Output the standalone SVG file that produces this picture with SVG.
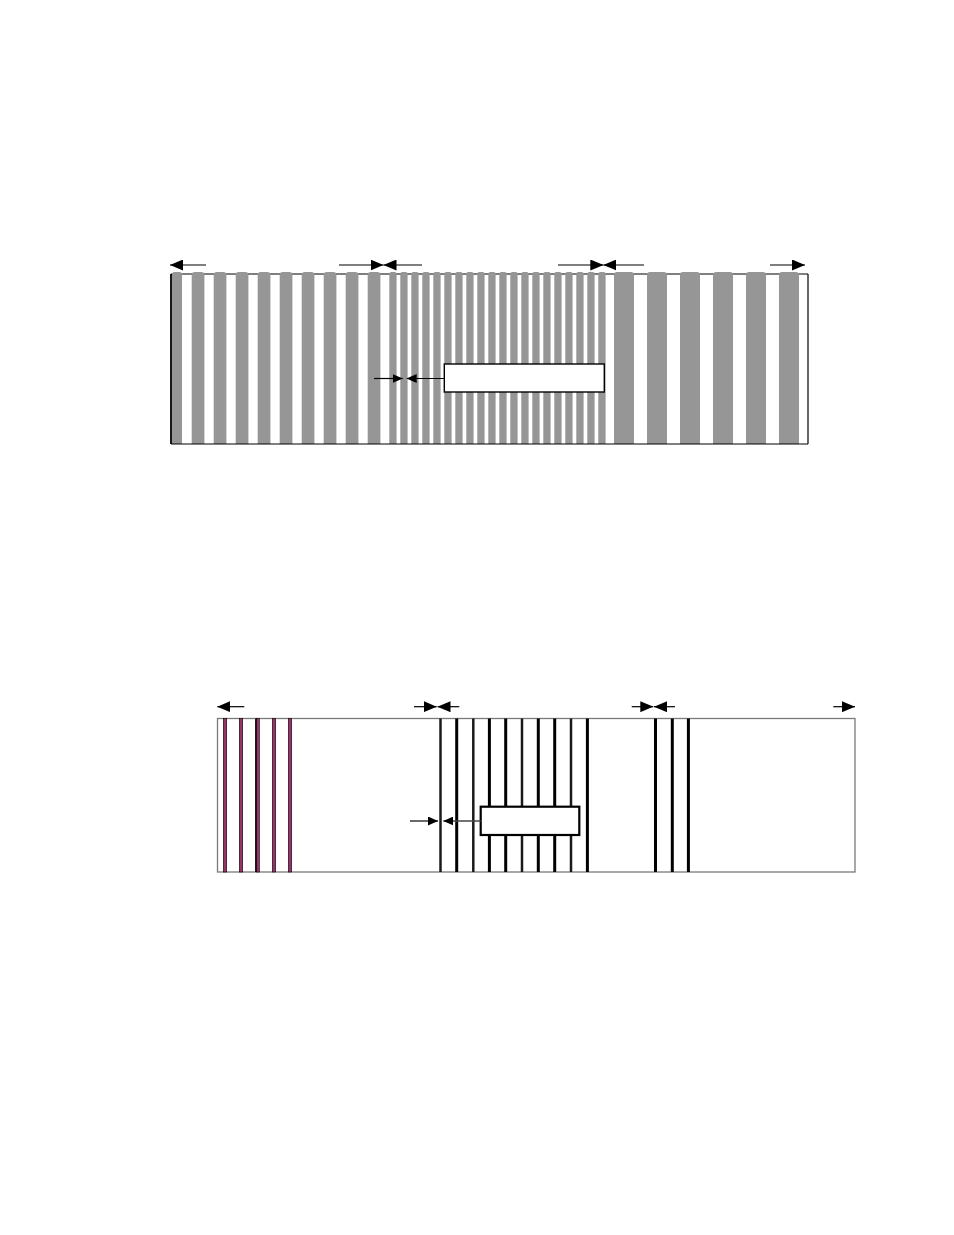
<svg xmlns="http://www.w3.org/2000/svg" width="954" height="1235" viewBox="0 0 954 1235">
<style>
.bar{fill:#969696}
.frame{fill:none;stroke:#000;stroke-width:1.2}
.frame2{fill:none;stroke:#7a7a7a;stroke-width:1.3}
.arr{stroke:#000;stroke-width:1.2;fill:none}
.arr2{stroke:#444;stroke-width:1.6;fill:none}
.lbox{fill:#fff;stroke:#000;stroke-width:1.4}
.lbox2{fill:#fff;stroke:#000;stroke-width:2.2}
.mag{fill:#993366;stroke:#000;stroke-width:0.6}
.bl{stroke:#000;stroke-width:3}
.bt{stroke:#1a1a1a;stroke-width:2.5}
</style>
<defs>
<marker id="ah" markerUnits="userSpaceOnUse" markerWidth="13" markerHeight="11" refX="13" refY="5.5" orient="auto"><path d="M0,0 L13,5.5 L0,11 z" fill="#000"/></marker>
<marker id="ahs" markerUnits="userSpaceOnUse" markerWidth="10" markerHeight="9" refX="10" refY="4.5" orient="auto"><path d="M0,0 L10,4.5 L0,9 z" fill="#000"/></marker>
<clipPath id="c1"><rect x="0" y="0" width="954" height="444"/></clipPath>
</defs>

<g id="top-diagram">
<g id="top-frame-top">
<line class="frame" x1="171" y1="274" x2="808" y2="274"/>
</g>
<g id="top-bars" clip-path="url(#c1)">
<rect class="bar" x="172" y="272" width="10" height="180" rx="2.5"/>
<rect class="bar" x="191.7" y="272" width="12.7" height="180" rx="3"/>
<rect class="bar" x="213.7" y="272" width="12.7" height="180" rx="3"/>
<rect class="bar" x="235.7" y="272" width="12.7" height="180" rx="3"/>
<rect class="bar" x="257.7" y="272" width="12.7" height="180" rx="3"/>
<rect class="bar" x="279.7" y="272" width="12.7" height="180" rx="3"/>
<rect class="bar" x="301.7" y="272" width="12.7" height="180" rx="3"/>
<rect class="bar" x="323.7" y="272" width="12.7" height="180" rx="3"/>
<rect class="bar" x="345.7" y="272" width="12.7" height="180" rx="3"/>
<rect class="bar" x="367.7" y="272" width="12.7" height="180" rx="3"/>
<rect class="bar" x="389.3" y="272" width="7.3" height="180" rx="2"/>
<rect class="bar" x="400.3" y="272" width="7.3" height="180" rx="2"/>
<rect class="bar" x="411.3" y="272" width="7.3" height="180" rx="2"/>
<rect class="bar" x="422.3" y="272" width="7.3" height="180" rx="2"/>
<rect class="bar" x="433.3" y="272" width="7.3" height="180" rx="2"/>
<rect class="bar" x="444.3" y="272" width="7.3" height="180" rx="2"/>
<rect class="bar" x="455.3" y="272" width="7.3" height="180" rx="2"/>
<rect class="bar" x="466.3" y="272" width="7.3" height="180" rx="2"/>
<rect class="bar" x="477.3" y="272" width="7.3" height="180" rx="2"/>
<rect class="bar" x="488.3" y="272" width="7.3" height="180" rx="2"/>
<rect class="bar" x="499.3" y="272" width="7.3" height="180" rx="2"/>
<rect class="bar" x="510.3" y="272" width="7.3" height="180" rx="2"/>
<rect class="bar" x="521.3" y="272" width="7.3" height="180" rx="2"/>
<rect class="bar" x="532.3" y="272" width="7.3" height="180" rx="2"/>
<rect class="bar" x="543.3" y="272" width="7.3" height="180" rx="2"/>
<rect class="bar" x="554.3" y="272" width="7.3" height="180" rx="2"/>
<rect class="bar" x="565.3" y="272" width="7.3" height="180" rx="2"/>
<rect class="bar" x="576.3" y="272" width="7.3" height="180" rx="2"/>
<rect class="bar" x="587.3" y="272" width="7.3" height="180" rx="2"/>
<rect class="bar" x="598.3" y="272" width="7.3" height="180" rx="2"/>
<rect class="bar" x="614" y="272" width="20" height="180" rx="3"/>
<rect class="bar" x="647" y="272" width="20" height="180" rx="3"/>
<rect class="bar" x="680" y="272" width="20" height="180" rx="3"/>
<rect class="bar" x="713" y="272" width="20" height="180" rx="3"/>
<rect class="bar" x="746" y="272" width="20" height="180" rx="3"/>
<rect class="bar" x="779" y="272" width="20" height="180" rx="3"/>
</g>
<g id="top-frame">
<line class="frame" x1="171" y1="444" x2="808" y2="444"/>
<line class="frame" x1="808" y1="274" x2="808" y2="444"/>
<line x1="171" y1="274" x2="171" y2="444" stroke="#000" stroke-width="1.8"/>
</g>
<g id="top-label-box">
<rect class="lbox" x="444.3" y="364" width="160" height="28"/>
</g>
</g>

<g id="bottom-diagram">
<g id="bottom-frame">
<rect class="frame2" x="217.5" y="718.5" width="637.5" height="153.5"/>
</g>
<g id="bottom-lines">
<rect class="mag" x="223.3" y="718.5" width="3.4" height="153.5"/>
<rect class="mag" x="239.3" y="718.5" width="3.4" height="153.5"/>
<line x1="256" y1="718.5" x2="256" y2="872" stroke="#000" stroke-width="1.8"/>
<rect class="mag" x="256.5" y="718.5" width="2.8" height="153.5"/>
<rect class="mag" x="272.3" y="718.5" width="3.4" height="153.5"/>
<rect class="mag" x="288.3" y="718.5" width="3.4" height="153.5"/>
<line class="bt" x1="440.5" y1="718.5" x2="440.5" y2="872"/>
<line class="bl" x1="456.7" y1="718.5" x2="456.7" y2="872"/>
<line class="bt" x1="473.3" y1="718.5" x2="473.3" y2="872"/>
<line class="bl" x1="489.4" y1="718.5" x2="489.4" y2="872"/>
<line class="bl" x1="505.7" y1="718.5" x2="505.7" y2="872"/>
<line class="bt" x1="522" y1="718.5" x2="522" y2="872"/>
<line class="bl" x1="538.3" y1="718.5" x2="538.3" y2="872"/>
<line class="bl" x1="554.7" y1="718.5" x2="554.7" y2="872"/>
<line class="bt" x1="571" y1="718.5" x2="571" y2="872"/>
<line class="bl" x1="587.4" y1="718.5" x2="587.4" y2="872"/>
<line class="bl" x1="655.5" y1="718.5" x2="655.5" y2="872"/>
<line class="bl" x1="672.3" y1="718.5" x2="672.3" y2="872"/>
<line class="bl" x1="688.4" y1="718.5" x2="688.4" y2="872"/>
</g>
<g id="bottom-label-box">
<rect class="lbox2" x="480.7" y="806.7" width="98.6" height="28.3"/>
</g>
</g>

<g id="connectors">
<line class="arr" x1="206" y1="265" x2="170" y2="265" marker-end="url(#ah)"/>
<line class="arr" x1="339" y1="265" x2="383.5" y2="265" marker-end="url(#ah)"/>
<line class="arr" x1="422" y1="265" x2="383.5" y2="265" marker-end="url(#ah)"/>
<line class="arr" x1="558" y1="265" x2="603.3" y2="265" marker-end="url(#ah)"/>
<line class="arr" x1="644" y1="265" x2="603.3" y2="265" marker-end="url(#ah)"/>
<line class="arr" x1="770" y1="265" x2="805" y2="265" marker-end="url(#ah)"/>
<line class="arr" x1="374" y1="378.5" x2="402.7" y2="378.5" marker-end="url(#ahs)"/>
<line class="arr" x1="444.3" y1="378.5" x2="406.7" y2="378.5" marker-end="url(#ahs)"/>
<line class="arr" x1="244.3" y1="706.7" x2="217.3" y2="706.7" marker-end="url(#ah)"/>
<line class="arr" x1="414" y1="706.7" x2="436.7" y2="706.7" marker-end="url(#ah)"/>
<line class="arr" x1="459.3" y1="706.7" x2="437.5" y2="706.7" marker-end="url(#ah)"/>
<line class="arr" x1="631.7" y1="706.7" x2="653.3" y2="706.7" marker-end="url(#ah)"/>
<line class="arr" x1="675" y1="706.7" x2="654" y2="706.7" marker-end="url(#ah)"/>
<line class="arr" x1="833.3" y1="706.7" x2="855" y2="706.7" marker-end="url(#ah)"/>
<line class="arr2" x1="410" y1="821" x2="438" y2="821" marker-end="url(#ahs)"/>
<line class="arr2" x1="480.7" y1="821" x2="443.3" y2="821" marker-end="url(#ahs)"/>
</g>
</svg>
